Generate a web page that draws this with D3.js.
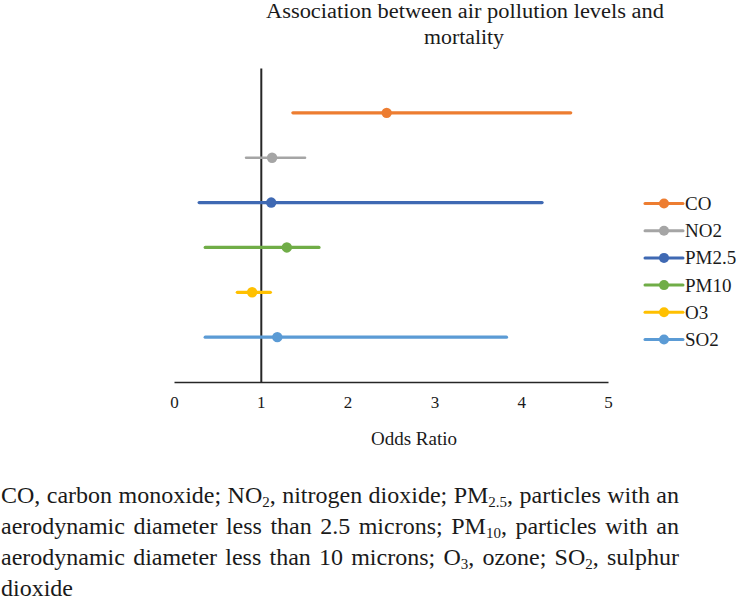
<!DOCTYPE html>
<html>
<head>
<meta charset="utf-8">
<script src="https://cdn.jsdelivr.net/npm/d3@7"></script>
<style>
  html, body { margin: 0; padding: 0; background: #ffffff; }
  svg { display: block; }
  text { font-family: "Liberation Serif", "Times New Roman", serif; fill: #1a1a1a; }
  .xaxis text { font-size: 17px; }
</style>
</head>
<body>
<svg id="chart" width="742" height="601"></svg>
<script>
// ---------- data ----------
const categories = ["CO", "NO2", "PM2.5", "PM10", "O3", "SO2"];
const oddsRatio  = [2.45, 1.13, 1.12, 1.30, 0.90, 1.19];
const lowerCI    = [1.37, 0.83, 0.29, 0.36, 0.73, 0.36];
const upperCI    = [4.57, 1.51, 4.24, 1.67, 1.11, 3.83];
const rowIndex   = [6, 5, 4, 3, 2, 1];
const colors     = ["#ED7D31", "#A5A5A5", "#3F69B3", "#70AD47", "#FFC000", "#5B9BD5"];
const xTicks     = [0, 1, 2, 3, 4, 5];
const titleLines = ["Association between air pollution levels and", "mortality"];
const xAxisTitle = "Odds Ratio";
// footnote lines: words made of [text, isSubscript] segments
const footLines = [
  [[["CO,",0]],[["carbon",0]],[["monoxide;",0]],[["NO",0],["2",1],[",",0]],[["nitrogen",0]],[["dioxide;",0]],[["PM",0],["2.5",1],[",",0]],[["particles",0]],[["with",0]],[["an",0]]],
  [[["aerodynamic",0]],[["diameter",0]],[["less",0]],[["than",0]],[["2.5",0]],[["microns;",0]],[["PM",0],["10",1],[",",0]],[["particles",0]],[["with",0]],[["an",0]]],
  [[["aerodynamic",0]],[["diameter",0]],[["less",0]],[["than",0]],[["10",0]],[["microns;",0]],[["O",0],["3",1],[",",0]],[["ozone;",0]],[["SO",0],["2",1],[",",0]],[["sulphur",0]]],
  [[["dioxide",0]]]
];

// ---------- layout ----------
const svg = d3.select("#chart");
const x = d3.scaleLinear().domain([0, 5]).range([174, 608]);
const y = d3.scaleLinear().domain([0, 7]).range([382, 68]);

// title
svg.append("text").attr("x", 465).attr("y", 17.5).attr("text-anchor", "middle")
  .attr("font-size", 20).attr("textLength", 398).attr("lengthAdjust", "spacingAndGlyphs")
  .text(titleLines[0]);
svg.append("text").attr("x", 464).attr("y", 43.5).attr("text-anchor", "middle")
  .attr("font-size", 20).attr("textLength", 80).attr("lengthAdjust", "spacingAndGlyphs")
  .text(titleLines[1]);

// x axis
const xAxis = svg.append("g").attr("class", "xaxis").attr("transform", `translate(0,${y(0)})`)
  .call(d3.axisBottom(x).tickValues(xTicks).tickSize(0).tickPadding(14).tickFormat(d3.format("d")));
xAxis.attr("font-size", 17).attr("font-family", "Liberation Serif");
xAxis.select(".domain").attr("stroke", "#262626").attr("stroke-width", 1.6);
xAxis.selectAll(".tick text").attr("font-size", 17).attr("fill", "#1a1a1a");

// vertical reference axis at OR = 1
const yAxis = svg.append("g").attr("transform", `translate(${x(1)},0)`)
  .call(d3.axisLeft(y).tickValues([]).tickSizeOuter(0));
yAxis.select(".domain").attr("stroke", "#262626").attr("stroke-width", 2);

// axis title
svg.append("text").attr("x", 414).attr("y", 445).attr("text-anchor", "middle")
  .attr("font-size", 19).text(xAxisTitle);

// CI lines and points
const rows = categories.map((c, i) => ({ c, or: oddsRatio[i], lo: lowerCI[i], hi: upperCI[i], r: rowIndex[i], col: colors[i] }));
const g = svg.append("g");
g.selectAll("line.ci").data(rows).join("line").attr("class", "ci")
  .attr("x1", d => x(d.lo)).attr("x2", d => x(d.hi))
  .attr("y1", d => y(d.r)).attr("y2", d => y(d.r))
  .attr("stroke", d => d.col).attr("stroke-width", d => d.c === "NO2" ? 2.5 : 3.3)
  .attr("stroke-linecap", "round");
g.selectAll("circle.pt").data(rows).join("circle").attr("class", "pt")
  .attr("cx", d => x(d.or)).attr("cy", d => y(d.r)).attr("r", 5.2)
  .attr("fill", d => d.col);

// legend
const legendY = d3.scaleLinear().domain([0, 5]).range([203.5, 339.5]);
const leg = svg.append("g").selectAll("g").data(rows).join("g")
  .attr("transform", (d, i) => `translate(0,${legendY(i)})`);
leg.append("line").attr("x1", 645).attr("x2", 683).attr("y1", 0).attr("y2", 0)
  .attr("stroke", d => d.col).attr("stroke-width", 3).attr("stroke-linecap", "round");
leg.append("circle").attr("cx", 664).attr("cy", 0).attr("r", 5).attr("fill", d => d.col);
leg.append("text").attr("x", 685).attr("y", 6.5).attr("font-size", 19).text(d => d.c);

// footnote (justified)
const footX = 1, footW = 678, footBase = [503, 534, 565, 596];
footLines.forEach((words, li) => {
  const nodes = words.map(segs => {
    const t = svg.append("text").attr("y", footBase[li]).attr("font-size", 24)
      .style("font-family", "'Liberation Serif', serif");
    let shifted = false;
    segs.forEach(([s, sub]) => {
      const ts = t.append("tspan").text(s);
      if (sub && !shifted) { ts.attr("font-size", 15).attr("dy", 4); shifted = true; }
      else if (!sub && shifted) { ts.attr("dy", -4); shifted = false; }
    });
    return t;
  });
  const widths = nodes.map(n => n.node().getComputedTextLength());
  const total = d3.sum(widths);
  const last = li === footLines.length - 1;
  const gap = last ? 6 : (footW - total) / (words.length - 1);
  let cx = footX;
  nodes.forEach((n, i) => { n.attr("x", cx); cx += widths[i] + gap; });
});
</script>
</body>
</html>
